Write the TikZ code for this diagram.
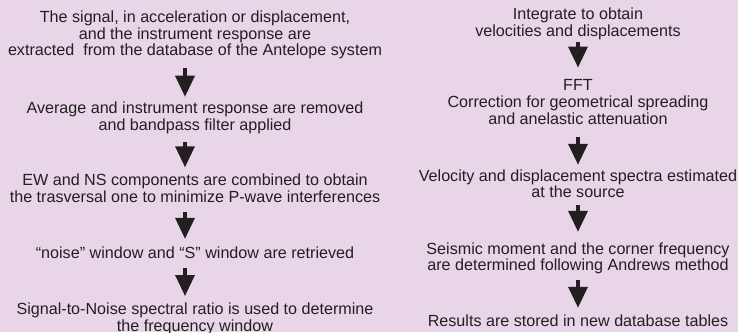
\documentclass[tikz,border=0pt]{standalone}
\usepackage{fontspec}
\setmainfont{Liberation Sans}
\usetikzlibrary{arrows.meta,positioning}
\definecolor{flowbg}{HTML}{E8D5E8}
\definecolor{flowink}{HTML}{231F20}

\begin{document}
\begin{tikzpicture}[
  x=0.75pt,y=0.75pt,
  txt/.style={text=flowink,inner sep=0pt,align=center,font=\fontsize{12.1}{12.4}\selectfont},
  arr/.style={-{Triangle[length=15.75pt,width=14.25pt]},draw=flowink,line width=2.6pt}
]
\useasboundingbox (0,0) rectangle (738,-332);
\fill[flowbg] (0,0) rectangle (738,-332);

% left column
\node[txt] (l1) at (195,-35) {The signal, in acceleration or displacement,\\and the instrument response are\\extracted\ \ from the database of the Antelope system};
\node[txt] (l2) at (195,-118) {Average and instrument response are removed\\and bandpass filter applied};
\node[txt] (l3) at (195,-188) {EW and NS components are combined to obtain\\the trasversal one to minimize P-wave interferences};
\node[txt] (l4) at (195,-252.5) {“noise” window and “S” window are retrieved};
\node[txt] (l5) at (195,-319) {Signal-to-Noise spectral ratio is used to determine\\the frequency window};

% right column
\node[txt] (r1) at (578,-24) {Integrate to obtain\\velocities and displacements};
\node[txt] (r2) at (578,-102) {FFT\\Correction for geometrical spreading\\and anelastic attenuation};
\node[txt] (r3) at (578,-183.5) {Velocity and displacement spectra estimated\\at the source};
\node[txt] (r4) at (578,-258.5) {Seismic moment and the corner frequency\\are determined following Andrews method};
\node[txt] (r5) at (578,-320.5) {Results are stored in new database tables};

% arrows (left ones sit a bit left of the text centre)
\draw[arr,shorten <=6.8pt,shorten >=3.9pt] ([xshift=-7.5pt]l1.south) -- ([xshift=-7.5pt]l2.north);
\draw[arr,shorten <=6.1pt,shorten >=4.7pt] ([xshift=-7.5pt]l2.south) -- ([xshift=-7.5pt]l3.north);
\draw[arr,shorten <=6.8pt,shorten >=5.6pt] ([xshift=-7.5pt]l3.south) -- ([xshift=-7.5pt]l4.north);
\draw[arr,shorten <=7.2pt,shorten >=5.2pt] ([xshift=-7.5pt]l4.south) -- ([xshift=-7.5pt]l5.north);
\draw[arr,shorten <=1.5pt,shorten >=9pt] (r1)--(r2);
\draw[arr,shorten <=9.4pt,shorten >=3.2pt] (r2)--(r3);
\draw[arr,shorten <=5.5pt,shorten >=8pt] (r3)--(r4);
\draw[arr,shorten <=4.3pt,shorten >=4.9pt] (r4)--(r5);
\end{tikzpicture}
\end{document}
